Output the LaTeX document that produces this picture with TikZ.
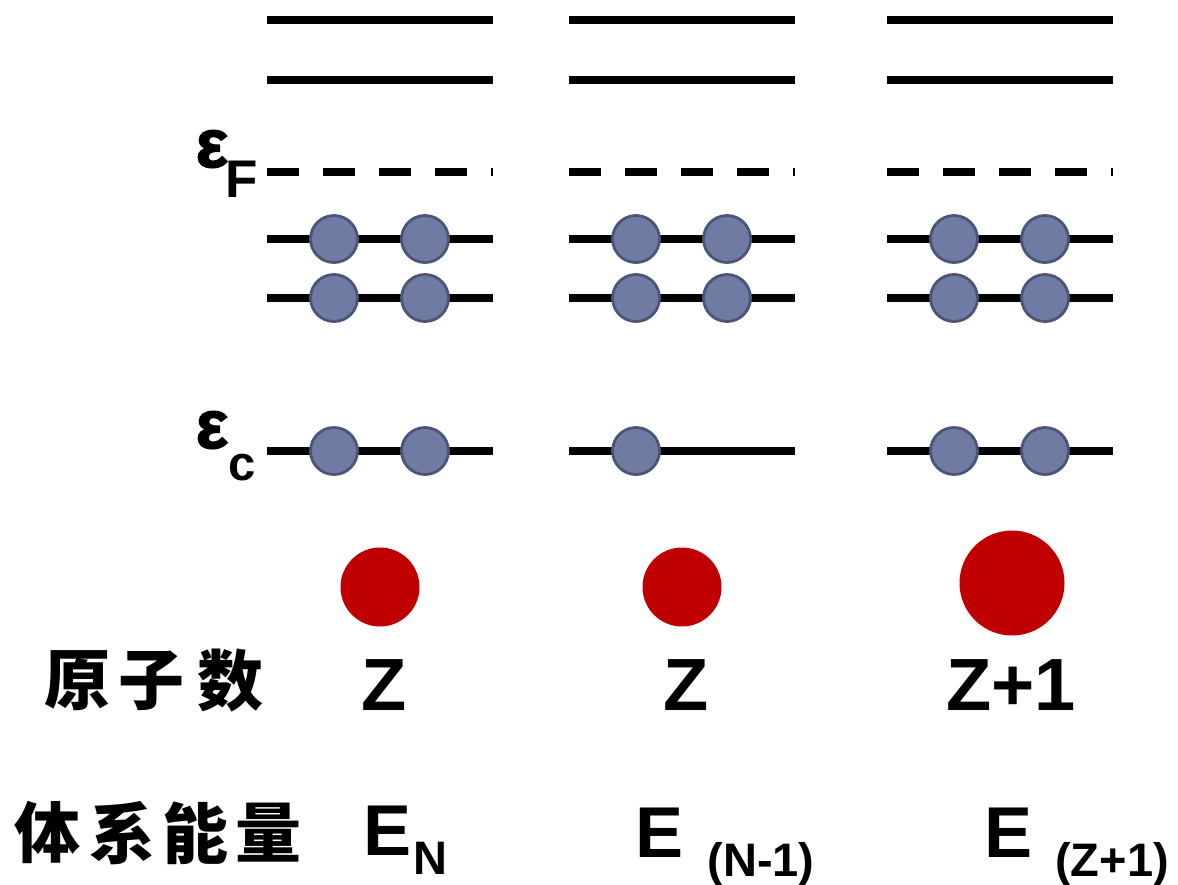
\documentclass[tikz,border=0pt]{standalone}
\usepackage{fontspec}
\setmainfont{Liberation Sans}
\newfontfamily\cjk{Noto Sans CJK SC}
\newfontfamily\heavyeps{Liberation Sans}[FakeBold=2.5]
\definecolor{elec}{HTML}{6F7BA2}
\definecolor{elecdark}{HTML}{4B5578}
\definecolor{nuc}{HTML}{C00000}
\tikzset{
  level/.style={line width=7.5pt, line cap=butt},
  fermi/.style={level, dash pattern=on 32pt off 24pt},
  electron/.style={circle, inner sep=0pt, minimum size=47pt, fill=elec, draw=elecdark, line width=2.8pt},
  nucleus/.style={circle, inner sep=0pt, fill=nuc},
  big/.style={inner sep=0pt, anchor=base, font=\bfseries\fontsize{72}{80}\selectfont},
  small/.style={inner sep=0pt, anchor=base, font=\bfseries\fontsize{47}{52}\selectfont},
  eps/.style={inner sep=0pt, anchor=base, font=\heavyeps\bfseries\fontsize{68}{72}\selectfont},
  han/.style={inner sep=0pt, anchor=center, font=\cjk\bfseries\fontsize{66}{70}\selectfont},
}
\begin{document}
\begin{tikzpicture}[x=1pt,y=-1pt]
\useasboundingbox (0,0) rectangle (1178,884);
% energy levels
\foreach \c/\xa in {1/267, 2/569, 3/887} {
  \foreach \l/\yy in {a/20, b/80, d/239, e/298, f/451} {
    \draw[level] (\xa,\yy) coordinate (L\c\l w) -- ++(226,0) coordinate (L\c\l e);
  }
  \draw[fermi] (\xa,172) coordinate (L\c cw) -- ++(226,0) coordinate (L\c ce);
}
% electrons
\foreach \c/\xa/\xb in {1/334/425, 2/636/727, 3/954/1045} {
  \node[electron] (e\c d1) at (\xa,239) {};
  \node[electron] (e\c d2) at (\xb,239) {};
  \node[electron] (e\c e1) at (\xa,298) {};
  \node[electron] (e\c e2) at (\xb,298) {};
  \node[electron] (e\c f1) at (\xa,451) {};
}
\node[electron] (e1f2) at (425,451) {};
\node[electron] (e3f2) at (1045,451) {};
% nuclei
\node[nucleus, minimum size=79pt] (n1) at (380,587) {};
\node[nucleus, minimum size=79pt] (n2) at (682,587) {};
\node[nucleus, minimum size=105pt] (n3) at (1012,583) {};
% level labels
\node[eps] (epsF) at (212,167) {ε};
\node[small, font=\bfseries\fontsize{53}{58}\selectfont] (subF) at (242,197) {F};
\node[eps] (epsC) at (212,448) {ε};
\node[small, font=\bfseries\fontsize{49}{54}\selectfont] (subC) at (242,480) {c};
% atomic numbers
\node[han] (h1) at (77,681) {原};
\node[han] (h2) at (151,681) {子};
\node[han] (h3) at (230,681) {数};
\node[big, font=\bfseries\fontsize{74}{80}\selectfont] (z1) at (384,710) {Z};
\node[big, font=\bfseries\fontsize{74}{80}\selectfont] (z2) at (686,710) {Z};
\node[big, font=\bfseries\fontsize{74}{80}\selectfont] (z3) at (1011,710) {Z+1};
% energies
\node[han] (g1) at (47,833) {体};
\node[han] (g2) at (122,833) {系};
\node[han] (g3) at (195,833) {能};
\node[han] (g4) at (268,833) {量};
\node[big] (E1) at (388,855) {E};
\node[small] (E1s) at (430,874) {N};
\node[big] (E2) at (660,857) {E};
\node[small] (E2s) at (761,876) {(N-1)};
\node[big] (E3) at (1008,857) {E};
\node[small] (E3s) at (1112,876) {(Z+1)};
\end{tikzpicture}
\end{document}
